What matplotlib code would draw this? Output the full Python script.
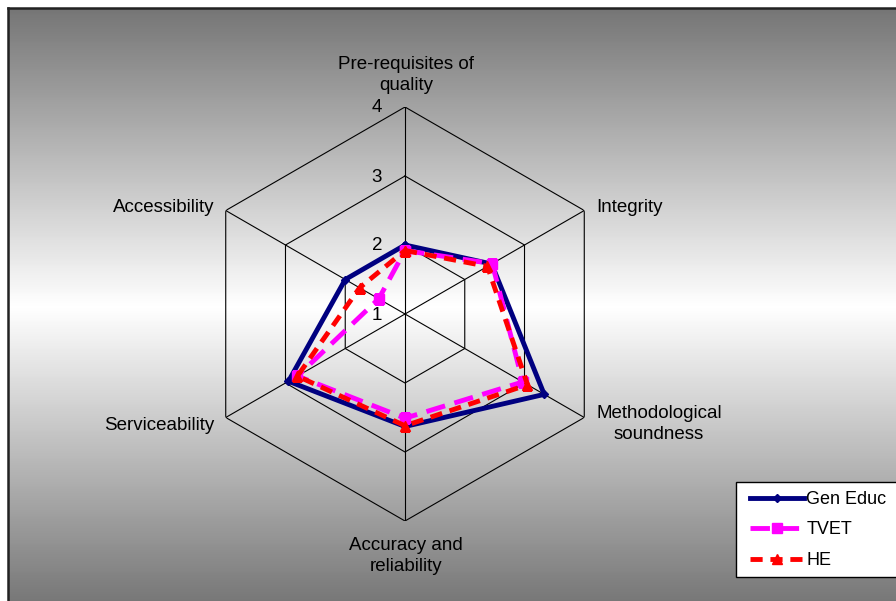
import numpy as np
import matplotlib
matplotlib.use("Agg")
import matplotlib.pyplot as plt
from matplotlib.patches import Rectangle

plt.rcParams['font.family'] = ['Liberation Sans', 'DejaVu Sans']

categories = ["Pre-requisites of\nquality", "Integrity", "Methodological\nsoundness",
              "Accuracy and\nreliability", "Serviceability", "Accessibility"]
gen_educ = [2.0, 2.45, 3.33, 2.63, 2.95, 2.0]
tvet = [1.92, 2.46, 2.97, 2.51, 2.8, 1.44]
he = [1.92, 2.38, 3.05, 2.62, 2.8, 1.76]
ring_levels = [2, 3, 4]

fig = plt.figure(figsize=(8.96, 6.01), dpi=100)

# gradient background frame (grey - white - grey)
bg = fig.add_axes([8/896, -0.01, 1.0, 1 - 8/601 + 0.01])
grad = np.linspace(-1, 1, 256)
vals = 1.0 - 0.54 * np.abs(grad)
bg.imshow(vals[:, None], cmap='gray', vmin=0, vmax=1, aspect='auto',
          extent=[0, 1, 0, 1])
bg.set_xticks([]); bg.set_yticks([])
for s in bg.spines.values():
    s.set_linewidth(1.8)
    s.set_color('#222222')

# radar
n = len(categories)
angles = [np.pi/2 - 2*np.pi*i/n for i in range(n)]
ang_closed = angles + angles[:1]

cx, cy, R = 405/896, 1 - 314/601, 207
ax = fig.add_axes([cx - R/896, cy - R/601, 2*R/896, 2*R/601], projection='polar')
ax.set_facecolor('none')
ax.patch.set_alpha(0)
ax.set_ylim(1, 4)
ax.grid(False)
ax.spines['polar'].set_visible(False)
ax.set_xticks([]); ax.set_yticks([])

for lv in ring_levels:
    ax.plot(ang_closed, [lv]*(n+1), color='black', lw=0.8, zorder=1)
for a in angles:
    ax.plot([a, a], [1, 4], color='black', lw=0.8, zorder=1)

for lv in [1] + ring_levels:
    ax.annotate(str(lv), (np.pi/2, lv), xytext=(-28, -1), textcoords='offset pixels',
                fontsize=13.5, ha='center', va='center')

def closed(v):
    return list(v) + [v[0]]

ax.plot(ang_closed, closed(tvet), color='#ff00ff', lw=3.5, ls=(0, (4, 2)),
        marker='s', ms=7, label='TVET', zorder=3)
ax.plot(ang_closed, closed(he), color='#ff0000', lw=3.5, ls=(0, (2.5, 1.6)),
        marker='^', ms=7, label='HE', zorder=4)
ax.plot(ang_closed, closed(gen_educ), color='#000080', lw=3.5, ls='-',
        marker='D', ms=4, label='Gen Educ', zorder=2)

# category labels
label_pos = [(406, 75), (596, 207), (596, 424), (406, 556), (214, 425), (214, 207)]
aligns = ['center', 'left', 'left', 'center', 'right', 'right']
for lab, (x, y), ha in zip(categories, label_pos, aligns):
    fig.text(x/896, 1 - y/601, lab, fontsize=13.5, ha=ha, va='center',
             multialignment='center', linespacing=1.25)

# legend box
fig.patches.append(Rectangle((736/896, 1 - 577/601), 0.3, 95/601,
                             transform=fig.transFigure, facecolor='white',
                             edgecolor='black', lw=1.0, zorder=5))
handles, labels = ax.get_legend_handles_labels()
order = [2, 0, 1]
leg = fig.legend([handles[i] for i in order], [labels[i] for i in order],
                 loc='center left', bbox_to_anchor=(734/896, 1 - 530/601),
                 fontsize=13, frameon=False,
                 handlelength=3.0, handletextpad=0.1, labelspacing=0.75)
leg.set_zorder(6)

fig.savefig("out.png", dpi=100)
